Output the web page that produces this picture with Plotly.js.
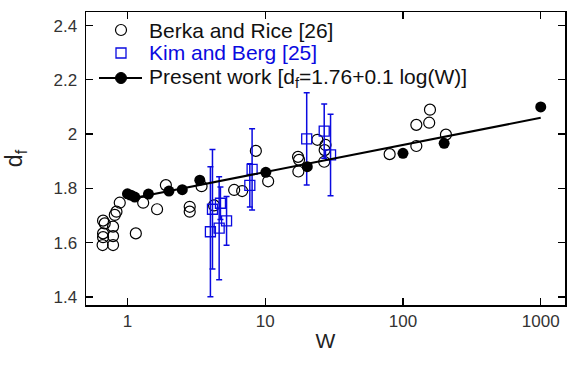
<!DOCTYPE html>
<html>
<head>
<meta charset="utf-8">
<script src="https://cdn.plot.ly/plotly-3.0.1.min.js"></script>
<style>html,body{margin:0;padding:0;background:#fff;}#chart{width:575px;height:367px;}</style>
</head>
<body>
<div id="chart"></div>
<script>
// Berka and Rice [26]
const berkaW = [0.665, 0.684, 0.665, 0.665, 0.66, 0.786, 0.786, 0.786, 0.809, 0.832, 0.879,
  1.15, 1.30, 1.64, 1.90, 2.83, 2.83, 3.45, 4.25, 5.95, 6.8, 8.55, 10.5,
  17.3, 17.6, 17.4, 23.9, 27.4, 27.0, 26.8, 80, 125, 125, 155, 157, 205];
const berkaD = [1.681, 1.671, 1.634, 1.620, 1.591, 1.659, 1.624, 1.591, 1.702, 1.714, 1.747,
  1.634, 1.747, 1.723, 1.812, 1.732, 1.714, 1.808, 1.737, 1.794, 1.790, 1.938, 1.826,
  1.916, 1.905, 1.862, 1.979, 1.960, 1.941, 1.898, 1.926, 1.956, 2.034, 2.042, 2.090, 1.998];

// Kim and Berg [25]
const kimW = [4.0, 4.14, 4.63, 4.73, 5.24, 7.73, 8.03, 20.0, 26.8, 29.8];
const kimD = [1.640, 1.723, 1.653, 1.745, 1.680, 1.811, 1.870, 1.982, 2.011, 1.923];
const kimErr = [0.24, 0.22, 0.19, 0.06, 0.09, 0.08, 0.15, 0.17, 0.10, 0.15];

// Present work
const presW = [1.0, 1.06, 1.13, 1.42, 2.0, 2.5, 3.35, 10.1, 20.2, 100, 199, 1000];
const presD = [1.780, 1.775, 1.768, 1.779, 1.790, 1.795, 1.830, 1.859, 1.880, 1.929, 1.966, 2.100];
const presErr = [0.01, 0, 0, 0, 0, 0, 0, 0, 0, 0.013, 0.013, 0];

// Fit line d_f = 1.76 + 0.1 log(W), endpoints
const fitW = [1, 1000];
const fitD = [1.76, 2.06];

const xTicks = [1, 10, 100, 1000];
const xTickText = ['1', '10', '100', '1000'];
const yTicks = [1.4, 1.6, 1.8, 2.0, 2.2, 2.4];
const yTickText = ['1.4', '1.6', '1.8', '2', '2.2', '2.4'];

const legendNames = ['Berka and Rice [26]', 'Kim and Berg [25]', 'Present work [d<sub>f</sub>=1.76+0.1 log(W)]'];

const FONT = 'Liberation Sans, Arial, sans-serif';
const BLUE = '#0a0ae0';

// plot-area geometry (pixels) used only to place the hand-drawn legend
const M = {l: 86, r: 10, t: 12, b: 62};
const W0 = 575, H0 = 367;
const pw = W0 - M.l - M.r, ph = H0 - M.t - M.b;
const px = v => (v - M.l) / pw;
const py = v => (H0 - M.b - v) / ph;

const traces = [
  {
    x: berkaW, y: berkaD, type: 'scatter', mode: 'markers',
    name: legendNames[0],
    marker: {symbol: 'circle-open', size: 11, color: '#000', line: {width: 1.2, color: '#000'}}
  },
  {
    x: kimW, y: kimD, type: 'scatter', mode: 'markers',
    name: legendNames[1],
    marker: {symbol: 'square-open', size: 10, color: BLUE, line: {width: 1.3, color: BLUE}},
    error_y: {type: 'data', array: kimErr, visible: true, color: BLUE, thickness: 1.5, width: 3}
  },
  {
    x: fitW, y: fitD, type: 'scatter', mode: 'lines',
    line: {color: '#000', width: 2}
  },
  {
    x: presW, y: presD, type: 'scatter', mode: 'markers',
    name: legendNames[2],
    marker: {symbol: 'circle', size: 11, color: '#000'},
    error_y: {type: 'data', array: presErr, visible: true, color: '#2a8a2a', thickness: 1.2, width: 2}
  }
];

const legX = 121, legTextX = 147, legRows = [30, 53, 78];

const shapes = [
  {type: 'circle', xref: 'paper', yref: 'paper', xsizemode: 'pixel', ysizemode: 'pixel',
   xanchor: px(legX), yanchor: py(legRows[0]), x0: -5.5, x1: 5.5, y0: -5.5, y1: 5.5,
   line: {color: '#000', width: 1.2}, fillcolor: 'rgba(0,0,0,0)'},
  {type: 'rect', xref: 'paper', yref: 'paper', xsizemode: 'pixel', ysizemode: 'pixel',
   xanchor: px(legX), yanchor: py(legRows[1]), x0: -5, x1: 5, y0: -5, y1: 5,
   line: {color: BLUE, width: 1.3}, fillcolor: 'rgba(0,0,0,0)'},
  {type: 'line', xref: 'paper', yref: 'paper',
   x0: px(99), x1: px(142), y0: py(legRows[2]), y1: py(legRows[2]),
   line: {color: '#000', width: 2}},
  {type: 'circle', xref: 'paper', yref: 'paper', xsizemode: 'pixel', ysizemode: 'pixel',
   xanchor: px(legX), yanchor: py(legRows[2]), x0: -5.5, x1: 5.5, y0: -5.5, y1: 5.5,
   line: {color: '#000', width: 1}, fillcolor: '#000'}
];

const legColors = ['#111', BLUE, '#111'];
const annotations = legendNames.map((t, i) => ({
  text: t, xref: 'paper', yref: 'paper', x: px(legTextX), y: py(legRows[i]),
  xanchor: 'left', yanchor: 'middle', showarrow: false,
  font: {family: FONT, size: 21, color: legColors[i]}
}));

const layout = {
  width: W0, height: H0,
  margin: M,
  paper_bgcolor: '#fff', plot_bgcolor: '#fff',
  font: {family: FONT, size: 17, color: '#222'},
  showlegend: false,
  shapes: shapes,
  annotations: annotations,
  xaxis: {
    type: 'log',
    range: [Math.log10(0.5), Math.log10(1500)],
    tickvals: xTicks, ticktext: xTickText,
    ticks: 'inside', ticklen: 7, tickwidth: 1.3, tickcolor: '#000',
    showline: true, linecolor: '#000', linewidth: 1.5, mirror: 'ticks',
    showgrid: false, zeroline: false,
    tickfont: {family: FONT, size: 17, color: '#333'},
    title: {text: 'W', font: {family: FONT, size: 21, color: '#222'}, standoff: 3}
  },
  yaxis: {
    range: [1.37, 2.45],
    tickvals: yTicks, ticktext: yTickText,
    ticks: 'inside', ticklen: 7, tickwidth: 1.3, tickcolor: '#000',
    showline: true, linecolor: '#000', linewidth: 1.5, mirror: 'ticks',
    showgrid: false, zeroline: false,
    tickfont: {family: FONT, size: 17, color: '#333'},
    ticklabelstandoff: 4,
    title: {text: 'd<sub>f</sub>', font: {family: FONT, size: 23, color: '#222'}, standoff: 24}
  }
};

Plotly.newPlot('chart', traces, layout, {displayModeBar: false, staticPlot: true});
</script>
</body>
</html>
